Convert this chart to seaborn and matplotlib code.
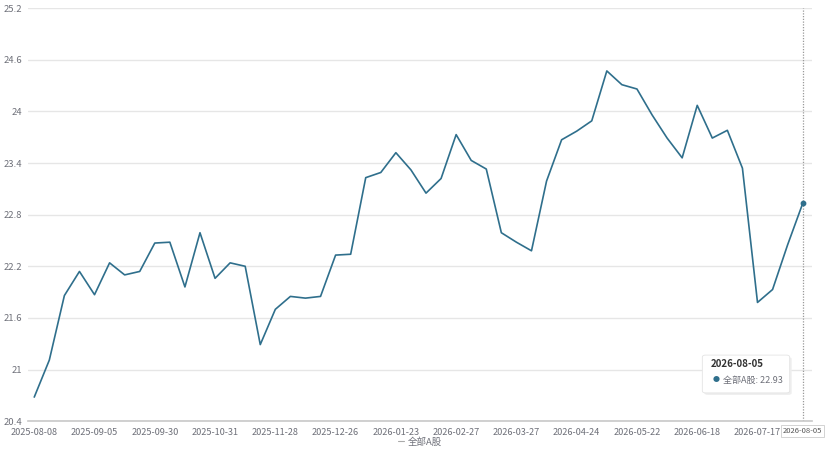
import matplotlib
matplotlib.use('Agg')
import matplotlib.pyplot as plt
import matplotlib.patches as mpatches
import seaborn as sns
import pandas as pd

# Data
dates = [
    '2025-08-08', '2025-08-15', '2025-08-22', '2025-08-29', '2025-09-05', '2025-09-12',
    '2025-09-19', '2025-09-26', '2025-09-30', '2025-10-10', '2025-10-17', '2025-10-24',
    '2025-10-31', '2025-11-07', '2025-11-14', '2025-11-21', '2025-11-28', '2025-12-05',
    '2025-12-12', '2025-12-19', '2025-12-26', '2026-01-02', '2026-01-09', '2026-01-16',
    '2026-01-23', '2026-01-30', '2026-02-06', '2026-02-13', '2026-02-27', '2026-03-06',
    '2026-03-13', '2026-03-20', '2026-03-27', '2026-04-03', '2026-04-10', '2026-04-17',
    '2026-04-24', '2026-04-30', '2026-05-08', '2026-05-15', '2026-05-22', '2026-05-29',
    '2026-06-05', '2026-06-12', '2026-06-18', '2026-06-26', '2026-07-03', '2026-07-10',
    '2026-07-17', '2026-07-24', '2026-07-31', '2026-08-05',
]
values = [
    20.68, 21.11, 21.86, 22.14, 21.87, 22.24, 22.10, 22.14, 22.47, 22.48,
    21.96, 22.59, 22.06, 22.24, 22.20, 21.29, 21.70, 21.85, 21.83, 21.85,
    22.33, 22.34, 23.23, 23.29, 23.52, 23.32, 23.05, 23.22, 23.73, 23.43,
    23.33, 22.59, 22.48, 22.38, 23.19, 23.67, 23.77, 23.89, 24.47, 24.31,
    24.26, 23.96, 23.69, 23.46, 24.07, 23.69, 23.78, 23.34, 21.78, 21.93,
    22.45, 22.93,
]
series_name = '全部A股'
y_ticks = [20.4, 21, 21.6, 22.2, 22.8, 23.4, 24, 24.6, 25.2]
y_tick_labels = ['20.4', '21', '21.6', '22.2', '22.8', '23.4', '24', '24.6', '25.2']

df = pd.DataFrame({'idx': range(len(dates)), 'date': dates, 'value': values})

sns.set_theme(style='white')
plt.rcParams['font.family'] = ['Noto Sans CJK SC', 'DejaVu Sans']

line_color = '#2f6f8c'
text_color = '#6e7079'

fig = plt.figure(figsize=(8.3, 4.5), dpi=100)
ax = fig.add_axes([0.034, 0.064, 0.944, 0.918])

sns.lineplot(data=df, x='idx', y='value', ax=ax, color=line_color, linewidth=1.2,
             label=series_name)

last = len(dates) - 1
ax.scatter([df['idx'].iloc[last]], [df['value'].iloc[last]], s=10, color=line_color, zorder=5)
ax.axvline(df['idx'].iloc[last], color='#999999', linestyle=(0, (1, 1.2)), linewidth=0.9, zorder=1)

ax.set_xlim(-0.4, 51.6)
ax.set_ylim(20.4, 25.2)
ax.set_yticks(y_ticks)
ax.set_yticklabels(y_tick_labels)
tick_idx = list(range(0, 49, 4))
ax.set_xticks(tick_idx)
ax.set_xticklabels([dates[i] for i in tick_idx])
ax.set_xlabel('')
ax.set_ylabel('')

for s in ['top', 'right', 'left']:
    ax.spines[s].set_visible(False)
ax.spines['bottom'].set_color('#c8c8c8')
ax.spines['bottom'].set_linewidth(1.2)
ax.grid(axis='y', color='#e6e6e6', linewidth=1)
ax.tick_params(axis='y', length=2.5, width=1.5, color='#333333', labelsize=6.8, labelcolor=text_color, pad=2)
ax.tick_params(axis='x', length=3, width=0.8, color='#c8c8c8', labelsize=6.6, labelcolor=text_color, pad=2)

# last date label on the axis
ax.annotate(dates[last], xy=(last, 20.4), xycoords='data', xytext=(0, -7), textcoords='offset points',
            ha='center', va='center', fontsize=5.5, color='#555555',
            bbox=dict(boxstyle='square,pad=0.25', fc='white', ec='#cccccc', lw=0.6))

# tooltip
shadow = mpatches.FancyBboxPatch((706 / 830, 1 - 394 / 450), 84 / 830, 36 / 450,
                                 boxstyle='round,pad=0.002,rounding_size=0.004',
                                 transform=fig.transFigure, fc='#eeeeee', ec='none', zorder=9)
box = mpatches.FancyBboxPatch((704 / 830, 1 - 392 / 450), 84 / 830, 36 / 450,
                              boxstyle='round,pad=0.002,rounding_size=0.004',
                              transform=fig.transFigure, fc='white', ec='#e4e4e4', lw=0.6, zorder=10)
fig.patches.extend([shadow, box])
fig.text(711 / 830, 1 - 367 / 450, dates[last], fontsize=7, fontweight='bold', color='#333333', zorder=11)
fig.text(716 / 830, 1 - 380 / 450, '\u25cf', fontsize=5, color=line_color, ha='center', va='center', zorder=11)
fig.text(723 / 830, 1 - 380 / 450, f'{series_name}: {values[last]:.2f}', fontsize=6.5,
         color=text_color, va='center', zorder=11)

leg = ax.legend(loc='center', bbox_to_anchor=(0.5, -0.05), frameon=False, fontsize=6.8,
                handlelength=0.6, handletextpad=0.4, labelcolor=text_color,
                borderpad=0, borderaxespad=0)
for h in leg.get_lines():
    h.set_color('#aaaaaa')
    h.set_linewidth(0.8)

fig.savefig('out.png', dpi=100)
